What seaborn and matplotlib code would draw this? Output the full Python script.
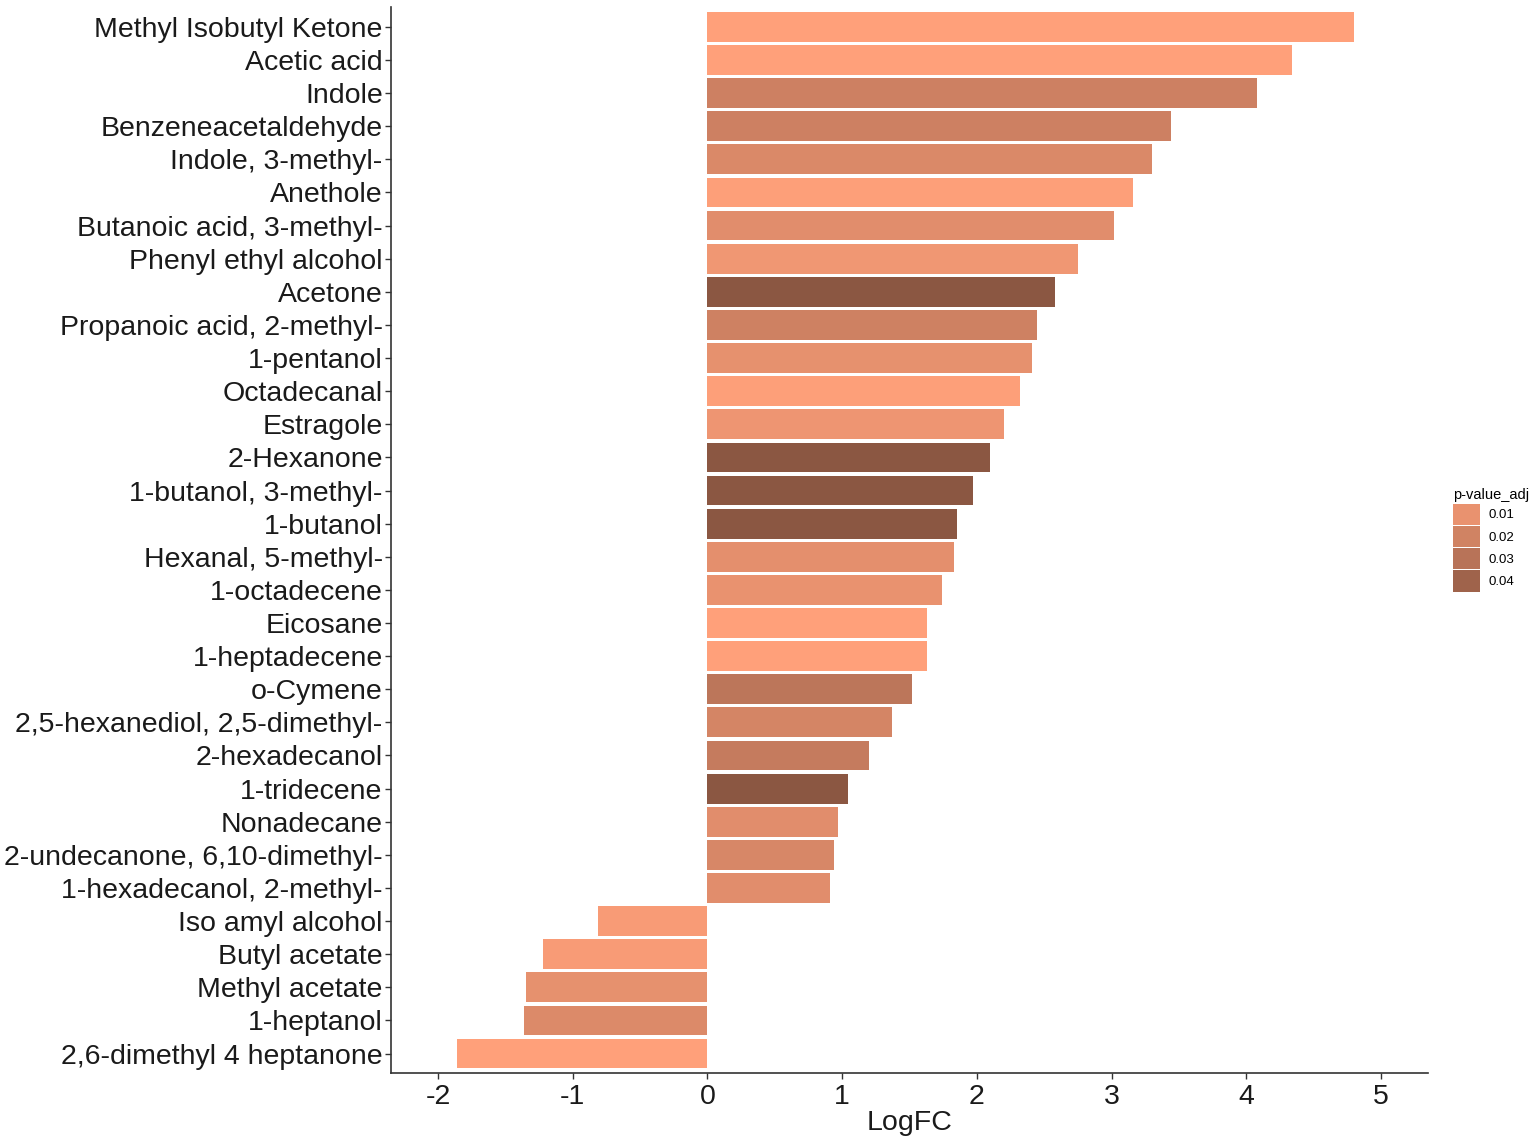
import numpy as np
import pandas as pd
import matplotlib
matplotlib.use("Agg")
import matplotlib.pyplot as plt
from matplotlib.colors import LinearSegmentedColormap, Normalize
from matplotlib.patches import Patch
import seaborn as sns

# --- Data ---
compounds = [
    "Methyl Isobutyl Ketone", "Acetic acid", "Indole", "Benzeneacetaldehyde",
    "Indole, 3-methyl-", "Anethole", "Butanoic acid, 3-methyl-", "Phenyl ethyl alcohol",
    "Acetone", "Propanoic acid, 2-methyl-", "1-pentanol", "Octadecanal", "Estragole",
    "2-Hexanone", "1-butanol, 3-methyl-", "1-butanol", "Hexanal, 5-methyl-",
    "1-octadecene", "Eicosane", "1-heptadecene", "o-Cymene",
    "2,5-hexanediol, 2,5-dimethyl-", "2-hexadecanol", "1-tridecene", "Nonadecane",
    "2-undecanone, 6,10-dimethyl-", "1-hexadecanol, 2-methyl-", "Iso amyl alcohol",
    "Butyl acetate", "Methyl acetate", "1-heptanol", "2,6-dimethyl 4 heptanone",
]
logfc = [
    4.80, 4.34, 4.08, 3.44, 3.30, 3.16, 3.02, 2.75, 2.58, 2.45, 2.41, 2.32, 2.20,
    2.10, 1.97, 1.85, 1.83, 1.74, 1.63, 1.63, 1.52, 1.37, 1.20, 1.04, 0.97, 0.94,
    0.91, -0.81, -1.22, -1.35, -1.36, -1.86,
]
p_adj = [
    0.001, 0.001, 0.0215, 0.0215, 0.016, 0.002, 0.013, 0.007, 0.048, 0.021, 0.011,
    0.002, 0.008, 0.048, 0.048, 0.048, 0.012, 0.010, 0.001, 0.001, 0.028, 0.0185,
    0.0245, 0.048, 0.013, 0.017, 0.013, 0.004, 0.004, 0.011, 0.015, 0.001,
]
legend_breaks = [0.01, 0.02, 0.03, 0.04]

df = pd.DataFrame({"compound": compounds, "LogFC": logfc, "p": p_adj})

# lightsalmon -> lightsalmon4 gradient, like the ggplot fill scale
cmap = LinearSegmentedColormap.from_list("salmon", ["#FFA07A", "#8B5742"])
norm = Normalize(vmin=min(p_adj), vmax=max(p_adj))
bar_colors = [cmap(norm(v)) for v in df["p"]]

plt.rcParams["font.family"] = ["Liberation Sans", "DejaVu Sans"]
plt.rcParams["axes.unicode_minus"] = False

fig = plt.figure(figsize=(15.35, 11.45), dpi=100)
ax = fig.add_axes([0.2547, 0.0625, 0.6756, 0.9314])

sns.barplot(data=df, x="LogFC", y="compound", hue="compound", palette=bar_colors,
            orient="h", width=0.9, legend=False, ax=ax, saturation=1)

ax.set_xlim(-2.35, 5.35)
ax.set_ylim(len(compounds) - 0.4, -0.6)
ax.set_xticks(range(-2, 6))
ax.set_xlabel("LogFC", fontsize=20.5, color="#1a1a1a", labelpad=0)
ax.set_ylabel("")
ax.tick_params(axis="both", labelsize=20.5, colors="#333333", labelcolor="#1a1a1a",
               length=4, width=1)
ax.tick_params(axis="y", pad=2)

for side in ["top", "right"]:
    ax.spines[side].set_visible(False)
for side in ["left", "bottom"]:
    ax.spines[side].set_color("#333333")
    ax.spines[side].set_linewidth(1.2)

# legend with colour keys for the breaks
handles = [Patch(facecolor=cmap(norm(b)), edgecolor="none") for b in legend_breaks]
leg = fig.legend(handles, [f"{b:.2f}" for b in legend_breaks], title="p-value_adj",
                 loc="upper left", bbox_to_anchor=(0.943, 0.578), frameon=False,
                 fontsize=9.5, title_fontsize=10.5, handlelength=2.1, handleheight=2.1,
                 handletextpad=0.6, labelspacing=0.08, borderaxespad=0)
leg._legend_box.align = "left"

fig.savefig("out.png", dpi=100, facecolor="white")
